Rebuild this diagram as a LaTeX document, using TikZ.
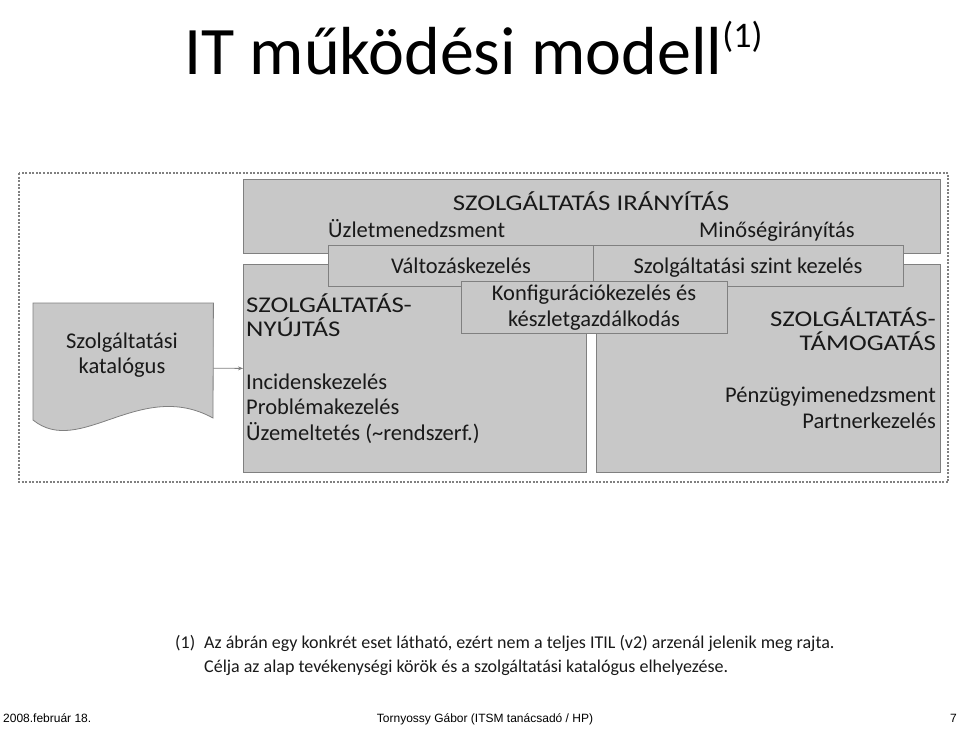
\documentclass[tikz,border=0pt]{standalone}
\usepackage{fontspec}
\setmainfont{Carlito}
\newfontfamily\capsfont[FakeStretch=1.19]{Carlito}
\newfontfamily\footfont{Liberation Sans}
\usetikzlibrary{arrows.meta}

\definecolor{boxgray}{RGB}{200,200,200}
\definecolor{edgegray}{RGB}{128,128,128}
\definecolor{inkgray}{RGB}{25,25,25}

\begin{document}
\begin{tikzpicture}[x=1pt, y=-1pt,
    blokk/.style={draw=edgegray, fill=boxgray, line width=0.8pt, inner sep=0pt, anchor=north west},
    felirat/.style={text=inkgray, font=\fontsize{22.5}{24.5}\selectfont, inner sep=0pt},
    nagybetu/.style={felirat, font=\capsfont\fontsize{22.5}{24}\selectfont},
    jegyzet/.style={text=inkgray, font=\fontsize{18}{24}\selectfont, inner sep=0pt, anchor=base west},
    lablec/.style={font=\footfont\fontsize{12}{14}\selectfont, inner sep=0pt, anchor=base}
  ]
  \useasboundingbox (0,0) rectangle (960,728);

  % title
  \node[font=\fontsize{68}{70}\selectfont, inner sep=0pt, anchor=base west] (cim) at (184,74)
    {IT működési modell\raisebox{27pt}{\fontsize{36}{36}\selectfont(1)}};

  % dotted frame round the model
  \draw[edgegray, line width=1.2pt, dash pattern=on 2pt off 1.5pt] (19,173) rectangle (948,482);

  % blocks
  \node[blokk, minimum width=697pt, minimum height=74pt] (iranyitas) at (243,179) {};
  \node[blokk, minimum width=343pt, minimum height=208pt] (nyujtas) at (243,264) {};
  \node[blokk, minimum width=344pt, minimum height=208pt] (tamogatas) at (596,264) {};
  \node[blokk, minimum width=265pt, minimum height=41pt] (valtozas) at (328,245) {};
  \node[blokk, minimum width=310pt, minimum height=41pt] (szint) at (593,245) {};
  \node[blokk, minimum width=266pt, minimum height=52pt] (konfig) at (461,281) {};

  % catalogue (document shape)
  \node[minimum width=180pt, minimum height=130pt, inner sep=0pt, anchor=north west] (katalog) at (33,303) {};
  \draw[edgegray, fill=boxgray, line width=0.8pt] (katalog.north west) -- (katalog.north east)
    -- (213,418) .. controls (140,378) and (80,458) .. (33,420) -- cycle;
  \draw[edgegray, line width=0.8pt, -{Stealth[length=5pt, width=4pt]}] (katalog.east) -- (nyujtas.west);

  % texts (base = last line)
  \node[nagybetu, anchor=base] (iranyitascim) at (591,210) {SZOLGÁLTATÁS IRÁNYÍTÁS};
  \node[felirat, anchor=base west] (uzlet) at (328,237) {Üzletmenedzsment};
  \node[felirat, anchor=base east] (minoseg) at (855,237) {Minőségirányítás};
  \node[felirat, anchor=base] (valtozascim) at (461,273) {Változáskezelés};
  \node[felirat, anchor=base] (szintcim) at (748,273) {Szolgáltatási szint kezelés};
  \node[felirat, anchor=base, align=center, font=\fontsize{22.5}{26}\selectfont] (konfigcim) at (594,326)
    {Konfigurációkezelés és\\készletgazdálkodás};
  \node[nagybetu, anchor=base west, align=left] (nyujtascim) at (246,336) {SZOLGÁLTATÁS-\\NYÚJTÁS};
  \node[felirat, anchor=base west, align=left, font=\fontsize{22.5}{25.5}\selectfont] (nyujtaslista) at (246,440)
    {Incidenskezelés\\Problémakezelés\\Üzemeltetés (\textasciitilde rendszerf.)};
  \node[nagybetu, anchor=base east, align=right] (tamogatascim) at (936,350) {SZOLGÁLTATÁS-\\TÁMOGATÁS};
  \node[felirat, anchor=base east, align=right, font=\fontsize{22.5}{26}\selectfont] (tamogataslista) at (936,428)
    {Pénzügyimenedzsment\\Partnerkezelés};
  \node[felirat, anchor=base, align=center, font=\fontsize{22.5}{25}\selectfont] (katalogcim) at (122,373)
    {Szolgáltatási\\katalógus};

  % footnote
  \node[jegyzet] (jegyzet1) at (175,648) {(1)};
  \node[jegyzet, align=left] (jegyzet2) at (204,672)
    {Az ábrán egy konkrét eset látható, ezért nem a teljes ITIL (v2) arzenál jelenik meg rajta.\\
     Célja az alap tevékenységi körök és a szolgáltatási katalógus elhelyezése.};

  % footer
  \node[lablec, anchor=base west] (datum) at (3,722) {2008.február 18.};
  \node[lablec] (szerzo) at (485,722) {Tornyossy Gábor (ITSM tanácsadó / HP)};
  \node[lablec, anchor=base east] (oldal) at (957,722) {7};
\end{tikzpicture}
\end{document}
